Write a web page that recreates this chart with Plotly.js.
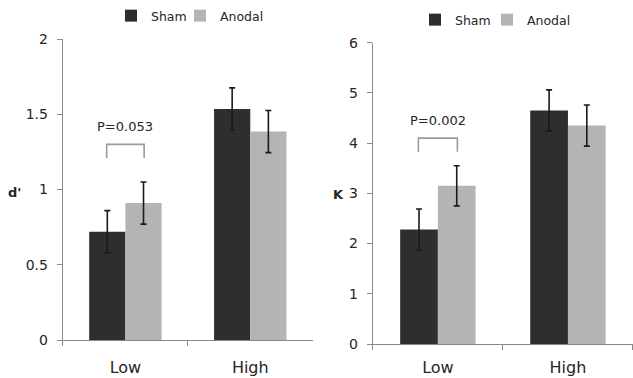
<!DOCTYPE html>
<html>
<head>
<meta charset="utf-8">
<script src="https://cdn.plot.ly/plotly-3.0.1.min.js"></script>
<style>html,body{margin:0;padding:0;background:#fff;}#chart{width:633px;height:378px;}</style>
</head>
<body>
<div id="chart"></div>
<script>
// ---- data ----
const categories = ["Low", "High"];
const seriesNames = ["Sham", "Anodal"];
const dprimeSham = [0.72, 1.535];
const dprimeShamErr = [0.14, 0.14];
const dprimeAnodal = [0.91, 1.385];
const dprimeAnodalErr = [0.14, 0.14];
const kSham = [2.28, 4.65];
const kShamErr = [0.41, 0.41];
const kAnodal = [3.15, 4.35];
const kAnodalErr = [0.40, 0.41];
const leftTicks = [0, 0.5, 1, 1.5, 2];
const leftTickText = ["0", "0.5", "1", "1.5", "2"];
const rightTicks = [0, 1, 2, 3, 4, 5, 6];
const pLabels = ["P=0.053", "P=0.002"];
const bracketLeftY = [1.21, 1.30];   // leg bottom, bracket top (d')
const bracketRightY = [3.83, 4.10];  // leg bottom, bracket top (K)
const pTextY = [1.42, 4.46];

// ---- styling ----
const shamColor = "#2e2e2e";
const anodalColor = "#b4b4b4";
const axisColor = "#8a8a8a";
const textColor = "#262626";
const FONT = "'DejaVu Sans', sans-serif";

function barTrace(name, y, err, color, xa, ya, legendId) {
  return {
    type: "bar", name: name, x: categories, y: y,
    xaxis: xa, yaxis: ya, legend: legendId, showlegend: true,
    marker: {color: color, line: {width: 0}},
    error_y: {type: "data", array: err, visible: true, color: "#1a1a1a", thickness: 1.6, width: 3},
    hoverinfo: "skip"
  };
}

const data = [
  barTrace(seriesNames[0], dprimeSham, dprimeShamErr, shamColor, "x", "y", "legend"),
  barTrace(seriesNames[1], dprimeAnodal, dprimeAnodalErr, anodalColor, "x", "y", "legend2"),
  barTrace(seriesNames[0], kSham, kShamErr, shamColor, "x2", "y2", "legend3"),
  barTrace(seriesNames[1], kAnodal, kAnodalErr, anodalColor, "x2", "y2", "legend4")
];

const half = 0.15; // bracket half-span in category units
function bracketPath(ys) {
  return `M ${-half} ${ys[0]} L ${-half} ${ys[1]} L ${half} ${ys[1]} L ${half} ${ys[0]}`;
}

const xaxisBase = {
  type: "category", range: [-0.5, 1.5], showline: true, linecolor: axisColor, linewidth: 1.2,
  ticks: "outside", ticklen: 5, tickcolor: axisColor, tickson: "boundaries",
  showgrid: false, zeroline: false, fixedrange: true,
  tickfont: {family: FONT, size: 16, color: textColor}
};
const yaxisBase = {
  showline: true, linecolor: axisColor, linewidth: 1.2,
  ticks: "outside", ticklen: 5, tickcolor: axisColor,
  showgrid: false, zeroline: false, fixedrange: true,
  tickfont: {family: FONT, size: 14, color: textColor}, ticklabelstandoff: 6
};

const legendBase = {
  orientation: "h", xanchor: "left", yanchor: "middle",
  font: {family: FONT, size: 12.5, color: textColor}, bgcolor: "rgba(0,0,0,0)",
  itemclick: false, itemdoubleclick: false
};

const layout = {
  width: 633, height: 378,
  margin: {l: 0, r: 0, t: 0, b: 0},
  paper_bgcolor: "#ffffff", plot_bgcolor: "#ffffff",
  showlegend: true,
  barmode: "group", bargap: 0.42, bargroupgap: 0,
  font: {family: FONT, color: textColor},
  xaxis: Object.assign({}, xaxisBase, {domain: [0.0995, 0.494], anchor: "y", ticklabelstandoff: 13}),
  yaxis: Object.assign({}, yaxisBase, {domain: [0.1005, 0.8968], anchor: "x", range: [0, 2], tickvals: leftTicks, ticktext: leftTickText}),
  xaxis2: Object.assign({}, xaxisBase, {domain: [0.589, 1.0], anchor: "y2", ticklabelstandoff: 9}),
  yaxis2: Object.assign({}, yaxisBase, {domain: [0.0899, 0.887], anchor: "x2", range: [0, 6], tickvals: rightTicks}),
  legend: Object.assign({}, legendBase, {x: 111 / 633, y: 1 - 16 / 378}),
  legend2: Object.assign({}, legendBase, {x: 180 / 633, y: 1 - 16 / 378}),
  legend3: Object.assign({}, legendBase, {x: 415 / 633, y: 1 - 20 / 378}),
  legend4: Object.assign({}, legendBase, {x: 487 / 633, y: 1 - 20 / 378}),
  shapes: [
    {type: "path", xref: "x", yref: "y", path: bracketPath(bracketLeftY), line: {color: "#9a9a9a", width: 1.6}},
    {type: "path", xref: "x2", yref: "y2", path: bracketPath(bracketRightY), line: {color: "#9a9a9a", width: 1.6}}
  ],
  annotations: [
    {xref: "x", yref: "y", x: 0, y: pTextY[0], text: pLabels[0], showarrow: false, font: {family: FONT, size: 13, color: textColor}},
    {xref: "x2", yref: "y2", x: 0, y: pTextY[1], text: pLabels[1], showarrow: false, font: {family: FONT, size: 13, color: textColor}},
    {xref: "paper", yref: "paper", x: 14 / 633, y: 1 - 192 / 378, xanchor: "center", yanchor: "middle", text: "<b>d'</b>", showarrow: false, font: {family: FONT, size: 13, color: textColor}},
    {xref: "paper", yref: "paper", x: 338.5 / 633, y: 1 - 194 / 378, xanchor: "center", yanchor: "middle", text: "<b>K</b>", showarrow: false, font: {family: FONT, size: 13, color: textColor}}
  ]
};

Plotly.newPlot("chart", data, layout, {displayModeBar: false, staticPlot: true});
</script>
</body>
</html>
